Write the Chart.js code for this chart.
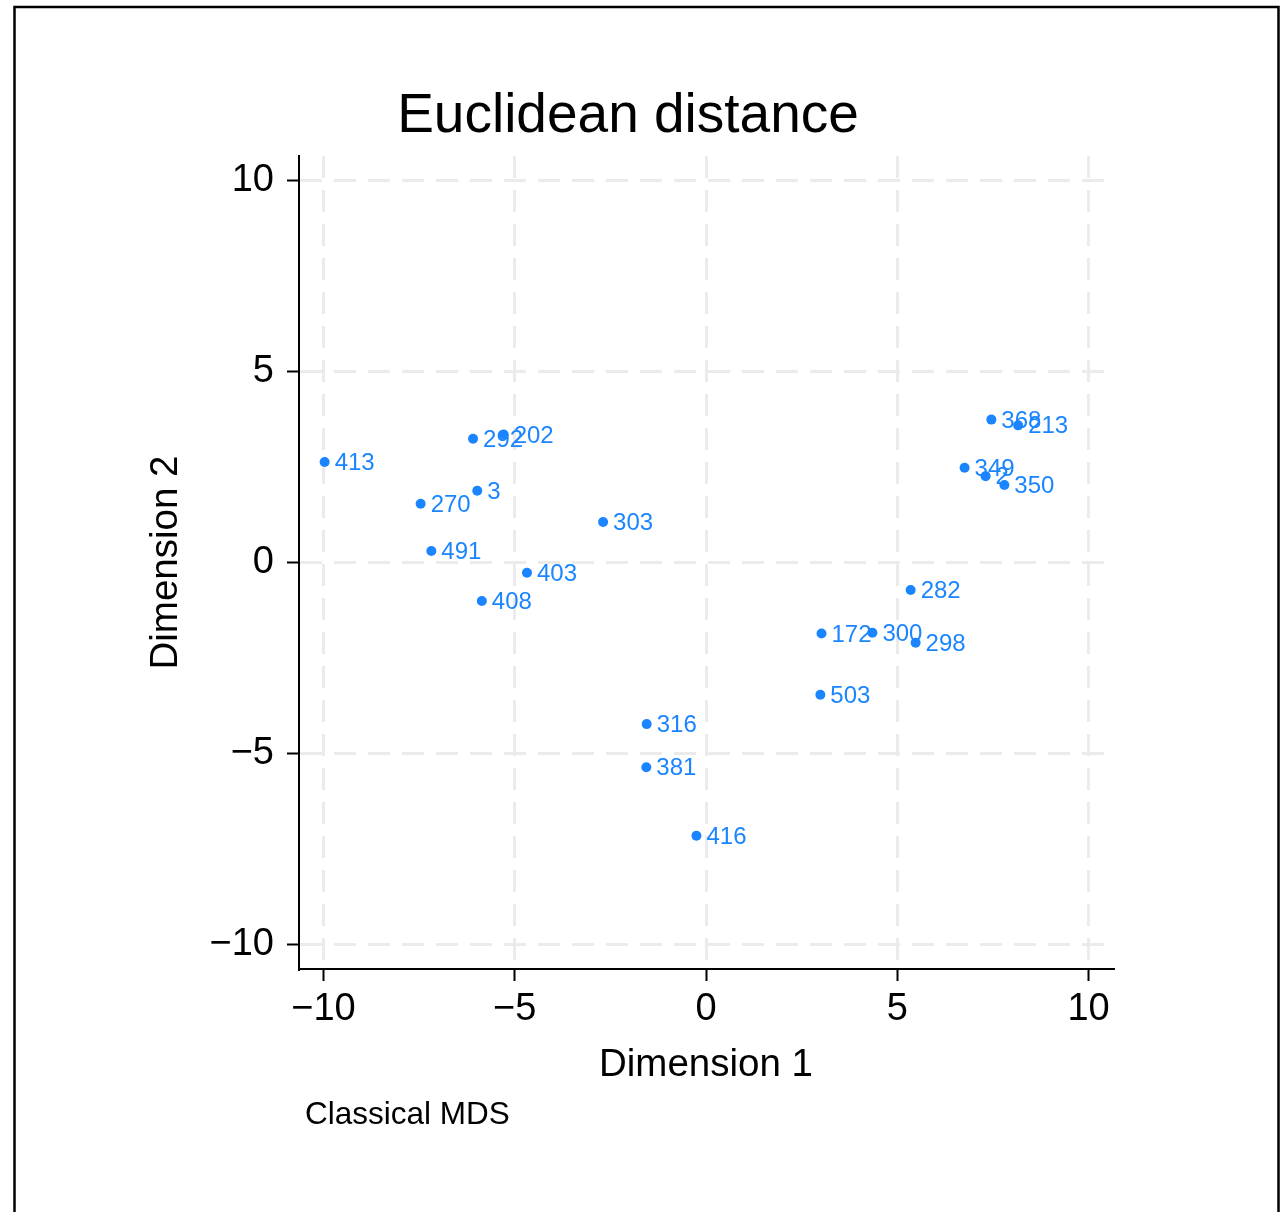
<!DOCTYPE html>
<html>
<head>
<meta charset="utf-8">
<script src="https://cdn.jsdelivr.net/npm/chart.js@4"></script>
<style>
  html, body { margin: 0; padding: 0; background: #fff; }
  #wrap { width: 1281px; height: 1212px; position: relative; }
</style>
</head>
<body>
<div id="wrap"><canvas id="mds"></canvas></div>
<script>
// MDS coordinates
const obsLabels = ['413', '292', '202', '3', '270', '491', '303', '403', '408',
  '316', '381', '416', '172', '300', '298', '282', '503',
  '368', '213', '349', '2', '350'];
const dim1 = [-9.97, -6.09, -5.29, -5.98, -7.46, -7.18, -2.69, -4.68, -5.86,
  -1.55, -1.56, -0.25, 3.02, 4.35, 5.48, 5.35, 2.99,
  7.46, 8.16, 6.76, 7.31, 7.80];
const dim2 = [2.63, 3.24, 3.35, 1.88, 1.54, 0.30, 1.06, -0.27, -1.01,
  -4.23, -5.36, -7.15, -1.86, -1.84, -2.10, -0.72, -3.46,
  3.74, 3.59, 2.48, 2.26, 2.03];
const tickVals = [-10, -5, 0, 5, 10];

const blue = 'rgb(26,133,255)';
const fontFam = '"Liberation Sans", Arial, Helvetica, sans-serif';

let pts = [];
for (let i = 0; i < dim1.length; i++) {
  pts.push({x: dim1[i], y: dim2[i]});
}

function fmt(v) {
  return v < 0 ? '\u2212' + Math.abs(v) : String(v);
}

// frame, title, note and the point labels
const extras = {
  id: 'extras',
  beforeDraw(chart) {
    const c = chart.ctx;
    c.save();
    c.fillStyle = '#fff';
    c.fillRect(0, 0, chart.width, chart.height);
    c.strokeStyle = '#000';
    c.lineWidth = 2.5;
    c.strokeRect(14.5, 7, 1264, 1300);
    c.restore();
  },
  afterDatasetsDraw(chart) {
    const c = chart.ctx;
    const meta = chart.getDatasetMeta(0);
    c.save();
    c.fillStyle = blue;
    c.font = '24px ' + fontFam;
    c.textAlign = 'left';
    c.textBaseline = 'middle';
    meta.data.forEach((p, i) => {
      c.fillText(obsLabels[i], p.x + 10, p.y + 1.5);
    });
    c.restore();
  },
  afterDraw(chart) {
    const c = chart.ctx;
    c.save();
    c.fillStyle = '#000';
    c.textBaseline = 'alphabetic';
    c.textAlign = 'center';
    c.font = '55px ' + fontFam;
    c.fillText('Euclidean distance', 628, 132);
    c.textAlign = 'left';
    c.font = '31.5px ' + fontFam;
    c.fillText('Classical MDS', 305, 1124);
    c.restore();
  }
};

const gridOpts = {
  color: '#ebebeb',
  lineWidth: 3,
  drawTicks: true,
  tickLength: 12,
  tickColor: '#000',
  tickWidth: 2,
  tickBorderDash: [],
};

new Chart(document.getElementById('mds').getContext('2d'), {
  type: 'scatter',
  data: {
    datasets: [{
      label: 'MDS',
      data: pts,
      backgroundColor: blue,
      borderColor: blue,
      pointRadius: 5,
      pointBorderWidth: 0
    }]
  },
  options: {
    responsive: true,
    maintainAspectRatio: false,
    animation: false,
    layout: { padding: { left: 0, top: 156, right: 168, bottom: 123 } },
    plugins: {
      legend: { display: false },
      tooltip: { enabled: false },
      title: { display: false }
    },
    scales: {
      x: {
        type: 'linear',
        min: -10.64,
        max: 10.64,
        afterBuildTicks: s => { s.ticks = tickVals.map(v => ({value: v})); },
        afterFit: s => { s.height = 120; },
        grid: Object.assign({}, gridOpts),
        border: { display: true, color: '#000', width: 2, dash: [22, 12] },
        ticks: {
          color: '#000',
          font: { family: fontFam, size: 38 },
          padding: 6,
          maxRotation: 0,
          callback: v => fmt(v)
        },
        title: {
          display: true,
          text: 'Dimension 1',
          color: '#000',
          font: { family: fontFam, size: 38.5 },
          padding: { top: 0, bottom: 1 }
        }
      },
      y: {
        type: 'linear',
        min: -10.64,
        max: 10.64,
        afterBuildTicks: s => { s.ticks = tickVals.map(v => ({value: v})); },
        afterFit: s => { s.width = 299; },
        grid: Object.assign({}, gridOpts),
        border: { display: true, color: '#000', width: 2, dash: [22, 12] },
        ticks: {
          color: '#000',
          font: { family: fontFam, size: 38 },
          padding: 13,
          callback: v => fmt(v)
        },
        title: {
          display: true,
          text: 'Dimension 2',
          color: '#000',
          font: { family: fontFam, size: 38.5 },
          padding: { top: 143, bottom: 0 }
        }
      }
    }
  },
  plugins: [extras]
});
</script>
</body>
</html>
